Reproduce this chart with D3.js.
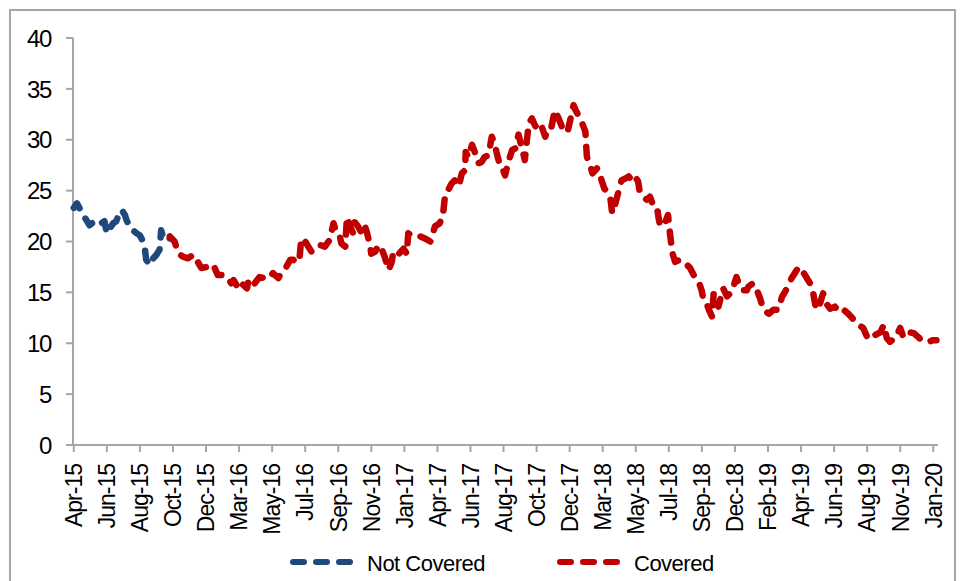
<!DOCTYPE html>
<html>
<head>
<meta charset="utf-8">
<script src="https://cdn.jsdelivr.net/npm/d3@7/dist/d3.min.js"></script>
<style>
  html, body { margin: 0; padding: 0; background: #fff; }
  svg { display: block; }
  text { font-family: "Liberation Sans", Arial, sans-serif; fill: #000; }
</style>
</head>
<body>
<svg id="chart" width="961" height="581"></svg>
<script>
// ---- Data (x = trading-day index from Apr-15; 42 trading days per axis label) ----
const tickLabels = ["Apr-15","Jun-15","Aug-15","Oct-15","Dec-15","Mar-16","May-16","Jul-16","Sep-16","Nov-16",
  "Jan-17","Apr-17","Jun-17","Aug-17","Oct-17","Dec-17","Mar-18","May-18","Jul-18","Sep-18",
  "Dec-18","Feb-19","Apr-19","Jun-19","Aug-19","Nov-19","Jan-20"];
const daysPerLabel = 42;
const yTicks = [0, 5, 10, 15, 20, 25, 30, 35, 40];

const notCoveredDays = [0,4,12,16,20,25,29,35,39,42,46,50,54,58,61,65,67,71,75,80,84,88,90,92,97,101,105,109,111,114,118,122];
const notCoveredValues = [23.3,23.75,22.6,22.1,21.6,21.9,22.1,21.8,22.0,20.8,21.3,21.8,22.0,22.8,23.1,22.6,22.1,21.5,21.1,20.8,20.6,20.0,19.5,18.2,17.7,18.35,18.7,19.2,21.1,20.3,20.5,20.3];

const coveredDays = [122,128,133,139,145,152,156,162,169,175,179,183,190,196,200,203,209,213,220,222,228,236,243,249,253,260,264,270,275,279,283,287,289,294,298,302,306,313,319,325,330,334,338,340,345,347,351,355,357,361,366,370,372,376,378,383,387,391,395,400,404,406,412,419,423,425,431,440,446,453,459,465,469,472,476,480,484,489,493,497,498,501,506,510,514,518,522,527,531,535,537,542,546,548,552,557,561,565,569,573,578,582,586,590,594,599,603,607,611,616,620,624,628,635,637,641,645,650,651,652,656,659,665,669,674,678,682,684,688,693,696,701,705,709,713,717,719,724,728,732,736,741,743,745,751,755,757,759,760,764,770,777,783,789,794,798,800,804,808,811,813,817,819,825,830,834,838,842,846,851,855,857,863,868,872,876,883,889,895,900,904,908,912,917,921,925,929,933,938,942,946,950,952,957,961,967,972,978,984,990,997,1003,1008,1012,1018,1025,1029,1033,1037,1044,1050,1054,1060,1067,1073,1077,1086,1092,1096];
const coveredValues = [20.5,20.0,18.8,18.5,18.35,18.7,18.2,17.4,17.5,17.8,17.4,16.7,16.7,16.4,15.9,16.2,15.4,15.9,15.4,16.2,15.7,16.5,16.4,16.4,16.9,16.4,17.0,17.5,18.2,18.2,17.9,18.5,20.3,20.0,19.5,19.0,19.3,19.65,19.5,20.15,21.8,20.8,20.5,19.8,19.5,22.4,21.5,20.8,21.9,21.5,20.8,21.5,21.0,19.8,18.8,19.0,19.65,19.3,18.5,17.2,18.0,19.0,18.7,19.3,18.8,20.8,20.5,20.5,20.3,20.0,21.5,21.8,22.6,24.7,25.1,25.7,26.0,25.4,26.7,27.0,28.8,28.3,29.5,28.7,27.7,27.8,28.3,28.5,30.3,29.6,28.8,27.3,26.9,26.5,27.8,29.0,29.15,30.5,29.3,28.0,31.6,32.1,31.4,31.0,31.4,30.3,31.3,31.3,32.9,32.1,31.3,31.6,31.0,33.4,33.0,32.4,31.8,30.8,29.4,28.3,27.5,26.7,27.2,26.4,25.2,24.9,24.1,22.8,23.7,25.2,26.0,26.2,26.4,26.0,26.4,25.9,24.9,24.4,24.1,24.4,23.6,23.4,22.3,21.5,21.8,22.6,21.1,19.8,19.0,18.0,18.2,17.85,17.4,16.5,16.05,15.1,14.25,13.9,13.1,12.6,14.9,14.4,13.6,15.4,14.6,14.9,15.55,16.5,15.55,15.2,15.2,15.55,15.9,15.2,14.4,13.3,12.9,13.3,13.3,14.6,15.1,15.7,16.4,17.0,17.5,17.2,16.7,16.2,15.55,13.8,13.3,14.4,14.9,13.8,13.4,13.6,13.1,13.3,12.9,12.4,11.8,11.5,10.6,11.0,10.8,11.1,11.8,10.5,10.15,10.5,11.5,10.6,11.1,11.0,10.6,10.3,10.15,10.3,10.3];

const seriesNames = ["Not Covered", "Covered"];
const seriesColors = ["#1F497D", "#C00000"];

// ---- Layout ----
const svg = d3.select("#chart");
const axisColor = "#A6A6A6";

// outer frame
svg.append("rect")
  .attr("x", 10).attr("y", 10).attr("width", 945).attr("height", 585)
  .attr("fill", "none").attr("stroke", axisColor).attr("stroke-width", 2);

const x = d3.scaleLinear().domain([-1, 1098]).range([73, 938]);
const y = d3.scaleLinear().domain([0, 40]).range([445, 38]);

// Y axis
const yAxis = svg.append("g").attr("transform", "translate(73,0)");
yAxis.append("line").attr("x1", 0).attr("x2", 0).attr("y1", y(40)).attr("y2", y(0))
  .attr("stroke", axisColor).attr("stroke-width", 2);
yAxis.selectAll(".yt").data(yTicks).enter().append("line")
  .attr("x1", -7).attr("x2", 0).attr("y1", d => y(d)).attr("y2", d => y(d))
  .attr("stroke", axisColor).attr("stroke-width", 2);
yAxis.selectAll(".yl").data(yTicks).enter().append("text")
  .attr("x", -22).attr("y", d => y(d)).attr("dy", "0.36em")
  .attr("text-anchor", "end")
  .style("font-size", "24px").style("letter-spacing", "-1.3px")
  .text(d => d);

// X axis
const tickPos = tickLabels.map((l, i) => i * daysPerLabel);
const xAxis = svg.append("g");
xAxis.append("line").attr("x1", x(-1)).attr("x2", x(1098)).attr("y1", y(0)).attr("y2", y(0))
  .attr("stroke", axisColor).attr("stroke-width", 2);
xAxis.selectAll(".xt").data(tickPos).enter().append("line")
  .attr("x1", d => x(d)).attr("x2", d => x(d)).attr("y1", y(0)).attr("y2", y(0) + 7)
  .attr("stroke", axisColor).attr("stroke-width", 2);
xAxis.selectAll(".xl").data(tickLabels).enter().append("text")
  .attr("transform", (d, i) => `translate(${x(tickPos[i])},${y(0) + 19}) rotate(-90)`)
  .attr("dy", "0.36em")
  .attr("text-anchor", "end")
  .style("font-size", "23px").style("letter-spacing", "-1px")
  .text(d => d);

// Lines
const line = d3.line().x(d => x(d[0])).y(d => y(d[1]));
const seriesData = [
  notCoveredDays.map((d, i) => [d, notCoveredValues[i]]),
  coveredDays.map((d, i) => [d, coveredValues[i]])
];
seriesData.forEach((data, i) => {
  svg.append("path").datum(data)
    .attr("d", line)
    .attr("fill", "none")
    .attr("stroke", seriesColors[i])
    .attr("stroke-width", 6.5)
    .attr("stroke-linecap", "round")
    .attr("stroke-linejoin", "round")
    .attr("stroke-dasharray", "11,12");
});

// Legend
const legendItems = [
  { name: seriesNames[0], color: seriesColors[0], x0: 293 },
  { name: seriesNames[1], color: seriesColors[1], x0: 560 }
];
legendItems.forEach(item => {
  svg.append("line")
    .attr("x1", item.x0).attr("x2", item.x0 + 57)
    .attr("y1", 562).attr("y2", 562)
    .attr("stroke", item.color).attr("stroke-width", 6)
    .attr("stroke-linecap", "round").attr("stroke-dasharray", "11,12");
  svg.append("text")
    .attr("x", item.x0 + 74).attr("y", 571)
    .style("font-size", "22px").style("letter-spacing", "-0.5px")
    .text(item.name);
});
</script>
</body>
</html>
